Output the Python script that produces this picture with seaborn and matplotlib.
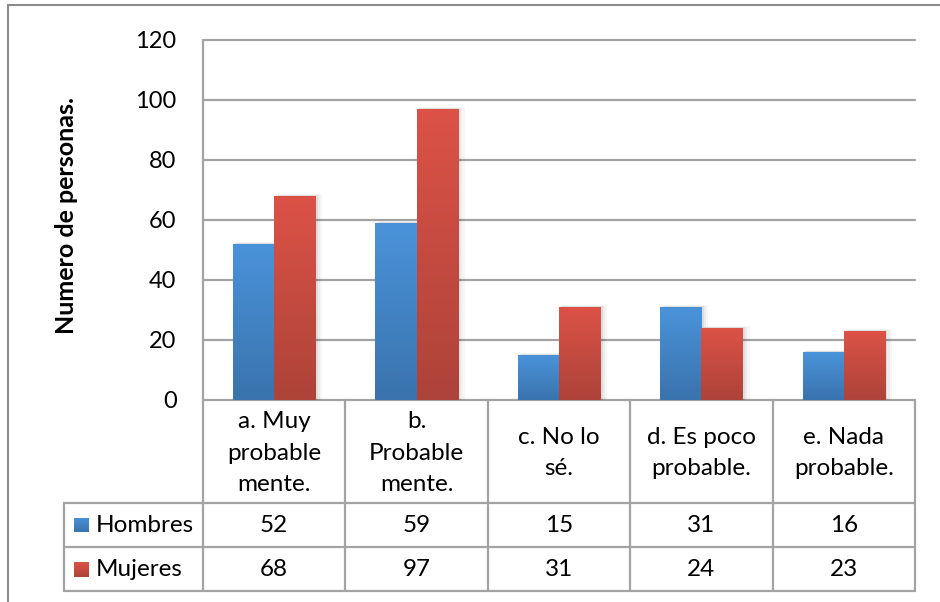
import numpy as np
import pandas as pd
import matplotlib
matplotlib.use("Agg")
import matplotlib.pyplot as plt
import seaborn as sns
from matplotlib.lines import Line2D
from matplotlib.patches import Rectangle
from matplotlib.transforms import blended_transform_factory

# ---- data -------------------------------------------------------------
categories = [
    "a. Muy\nprobable\nmente.",
    "b.\nProbable\nmente.",
    "c. No lo\nsé.",
    "d. Es poco\nprobable.",
    "e. Nada\nprobable.",
]
series_names = ["Hombres", "Mujeres"]
hombres = [52, 59, 15, 31, 16]
mujeres = [68, 97, 31, 24, 23]
y_ticks = [0, 20, 40, 60, 80, 100, 120]
y_label = "Numero de personas."

# top / bottom colours of the vertical gradient of each series
grad_colors = {
    "Hombres": ("#4a93da", "#3a73ad"),
    "Mujeres": ("#dc5247", "#ad4339"),
}
line_color = "#a3a3a3"
FS = 17.5

sns.set_theme(style="white")
plt.rcParams["font.family"] = ["Lato", "DejaVu Sans"]

W, H = 940, 602
fig = plt.figure(figsize=(W / 100, H / 100), dpi=100)
fig.patch.set_facecolor("white")


def fx(px):
    return px / W


def fy(py):
    return 1 - py / H


ax = fig.add_axes([fx(203), fy(400), fx(915) - fx(203), fy(40) - fy(400)])

df = pd.DataFrame({
    "categoria": categories * 2,
    "serie": [s for s in series_names for _ in categories],
    "valor": hombres + mujeres,
})

sns.barplot(
    data=df, x="categoria", y="valor", hue="serie", hue_order=series_names,
    palette=[grad_colors[s][1] for s in series_names], saturation=1,
    width=0.58, ax=ax, legend=False, errorbar=None,
)

ax.set_xlim(-0.5, len(categories) - 0.5)
ax.set_ylim(0, 120)
xlim, ylim = ax.get_xlim(), ax.get_ylim()


def gradient(top, bottom, n=256):
    t = np.linspace(0, 1, n)[:, None, None]
    c0 = np.array(matplotlib.colors.to_rgb(top))[None, None, :]
    c1 = np.array(matplotlib.colors.to_rgb(bottom))[None, None, :]
    return c0 * (1 - t) + c1 * t


# gradient fill + soft shadow for every bar
for serie, container in zip(series_names, ax.containers):
    top, bottom = grad_colors[serie]
    img = gradient(top, bottom)
    for bar in container:
        x0, y0 = bar.get_x(), bar.get_y()
        w, h = bar.get_width(), bar.get_height()
        for k, a in enumerate([0.06, 0.045, 0.03]):
            dx = 0.008 * (k + 1)
            ax.add_patch(Rectangle((x0 + dx, y0), w + dx, h + 0.25 * (k + 1),
                                   facecolor="black", alpha=a, lw=0, zorder=1.5))
        bar.set_facecolor("none")
        bar.set_edgecolor("none")
        bar.set_zorder(3)
        im = ax.imshow(img, extent=(x0, x0 + w, y0, y0 + h), aspect="auto",
                       origin="upper", zorder=2.5, interpolation="bilinear")
        im.set_clip_path(bar)

ax.set_xlim(*xlim)
ax.set_ylim(*ylim)

# gridlines
for t in y_ticks:
    ax.axhline(t, color=line_color, lw=1.6, clip_on=False, zorder=1)

for s in ax.spines.values():
    s.set_visible(False)

ax.set_yticks(y_ticks)
ax.set_yticklabels([str(t) for t in y_ticks], fontsize=17, color="black")
ax.tick_params(axis="y", length=0, pad=19)
ax.set_xticks([])
ax.set_xlabel("")
ax.set_ylabel("")

fig.text(fx(66), fy(215), y_label, rotation=90, ha="center", va="center",
         fontsize=18, fontweight="bold", color="black")

# ---- data table under the plot ----------------------------------------
tr = blended_transform_factory(ax.transData, fig.transFigure)
n = len(categories)
x_left = -0.5 - (203 - 64) / ((915 - 203) / n)
y_axis, y_r1, y_r2, y_r3 = fy(400), fy(503), fy(547), fy(591)


def tline(xs, ys):
    ax.add_line(Line2D(xs, ys, transform=tr, color=line_color, lw=1.6,
                       clip_on=False, zorder=1))


# left vertical line (axis) from top of plot to table bottom
tline([-0.5, -0.5], [fy(40), y_r3])
for b in np.arange(0.5, n, 1.0):
    tline([b, b], [y_axis, y_r3])
tline([x_left, x_left], [y_r1, y_r3])
for yy in (y_r1, y_r2, y_r3):
    tline([x_left, n - 0.5], [yy, yy])

# category headers
for i, c in enumerate(categories):
    ax.text(i, fy(453), c, transform=tr, ha="center", va="center",
            fontsize=FS, linespacing=1.62, color="black")

# series rows
rows = [(series_names[0], hombres, (y_r1 + y_r2) / 2),
        (series_names[1], mujeres, (y_r2 + y_r3) / 2)]
for name, vals, yc in rows:
    top, bottom = grad_colors[name]
    sq = 15
    ax_sq = fig.add_axes([fx(74), yc - (sq / 2) / H, sq / W, sq / H])
    ax_sq.imshow(gradient(top, bottom), aspect="auto",
                 extent=(0, 1, 0, 1), origin="upper")
    ax_sq.axis("off")
    fig.text(fx(96), yc, name, ha="left", va="center", fontsize=FS,
             color="black")
    for i, v in enumerate(vals):
        ax.text(i, yc, str(v), transform=tr, ha="center", va="center",
                fontsize=FS, color="black")

# outer chart frame
fig.add_artist(Line2D([fx(8), fx(8)], [fy(5), 0], color="#8c8c8c", lw=1.5))
fig.add_artist(Line2D([fx(8), 1], [fy(5), fy(5)], color="#8c8c8c", lw=1.5))

fig.savefig("out.png", dpi=100, facecolor="white")
